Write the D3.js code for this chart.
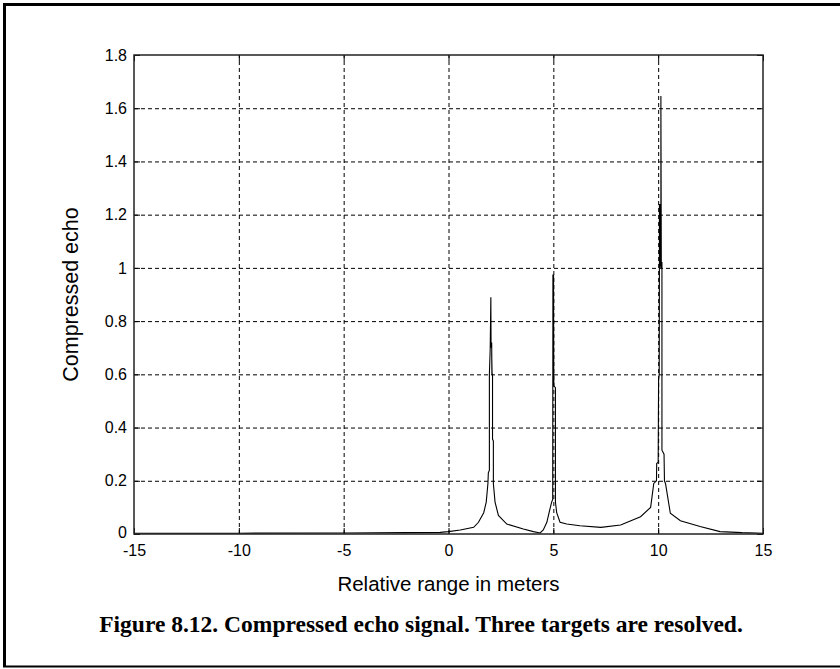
<!DOCTYPE html>
<html><head><meta charset="utf-8">
<script src="https://cdn.jsdelivr.net/npm/d3@7/dist/d3.min.js"></script>
<style>html,body{margin:0;padding:0;background:#fff}svg{display:block}</style>
</head><body>
<svg id="c" width="840" height="669"></svg>
<script>
// ---- data ----
const rangeMeters = [-15, -10, -5, -2, -0.4, 0, 0.56, 1.2, 1.43, 1.68, 1.8, 1.88, 1.9, 1.95, 1.95, 1.99, 2.02, 2.03, 2.06, 2.07, 2.06, 2.08, 2.1, 2.1, 2.14, 2.14, 2.22, 2.38, 2.78, 3.57, 4.05, 4.37, 4.52, 4.69, 4.84, 4.92, 4.97, 4.98, 5.0, 5.01, 5.02, 5.03, 5.1, 5.1, 5.16, 5.32, 5.64, 6.27, 7.27, 8.21, 9.16, 9.64, 9.79, 9.92, 9.93, 10.0, 10.02, 10.05, 10.06, 10.06, 10.07, 10.08, 10.09, 10.13, 10.13, 10.15, 10.18, 10.18, 10.28, 10.3, 10.35, 10.58, 11.06, 12.0, 12.95, 14, 15];
const compressedEcho = [0.003, 0.003, 0.004, 0.005, 0.006, 0.009, 0.015, 0.025, 0.044, 0.08, 0.12, 0.19, 0.23, 0.24, 0.6, 0.7, 0.89, 0.70, 0.72, 0.6, 0.68, 0.6, 0.6, 0.356, 0.35, 0.19, 0.12, 0.07, 0.0375, 0.019, 0.009, 0.004, 0.015, 0.044, 0.094, 0.12, 0.13, 0.975, 0.56, 0.975, 0.58, 0.556, 0.55, 0.12, 0.08, 0.044, 0.0375, 0.031, 0.025, 0.034, 0.065, 0.10, 0.19, 0.2, 0.265, 0.27, 0.58, 0.6, 1.03, 1.24, 1.03, 1.24, 1.02, 1.0, 1.646, 1.02, 1.02, 0.315, 0.3, 0.2, 0.19, 0.078, 0.05, 0.028, 0.009, 0.005, 0.003];
const xTickValues = [-15, -10, -5, 0, 5, 10, 15];
const xTickLabels = ["-15", "-10", "-5", "0", "5", "10", "15"];
const yTickValues = [0, 0.2, 0.4, 0.6, 0.8, 1, 1.2, 1.4, 1.6, 1.8];
const yTickLabels = ["0", "0.2", "0.4", "0.6", "0.8", "1", "1.2", "1.4", "1.6", "1.8"];
const xAxisTitle = "Relative range in meters";
const yAxisTitle = "Compressed echo";
const captionText = "Figure 8.12. Compressed echo signal. Three targets are resolved.";

// ---- layout ----
const svg = d3.select("#c");
const P = {l: 134, r: 763, t: 55, b: 534};
const x = d3.scaleLinear().domain([-15, 15]).range([P.l, P.r]);
const y = d3.scaleLinear().domain([0, 1.8]).range([P.b, P.t]);
const sans = "'Liberation Sans', Arial, Helvetica, sans-serif";

// figure frame
svg.append("line").attr("x1", 4.5).attr("x2", 4.5).attr("y1", 3).attr("y2", 667).attr("stroke", "#000").attr("stroke-width", 3);
svg.append("line").attr("x1", 3).attr("x2", 840).attr("y1", 4.5).attr("y2", 4.5).attr("stroke", "#000").attr("stroke-width", 3);
svg.append("line").attr("x1", 3).attr("x2", 840).attr("y1", 666.5).attr("y2", 666.5).attr("stroke", "#000").attr("stroke-width", 2);

// grid
const gx = svg.append("g").attr("transform", `translate(0,${P.b})`)
  .call(d3.axisBottom(x).tickValues(xTickValues.slice(1, -1)).tickSize(-(P.b - P.t)).tickFormat(""));
const gy = svg.append("g").attr("transform", `translate(${P.l},0)`)
  .call(d3.axisLeft(y).tickValues(yTickValues.slice(1, -1)).tickSize(-(P.r - P.l)).tickFormat(""));
[gx, gy].forEach(g => {
  g.select(".domain").remove();
  g.selectAll(".tick line").attr("stroke", "#000").attr("stroke-width", 1).attr("stroke-dasharray", "4,3");
});

// signal
svg.append("path")
  .datum(rangeMeters.map((d, i) => [d, compressedEcho[i]]))
  .attr("fill", "none").attr("stroke", "#000").attr("stroke-width", 1.1)
  .attr("d", d3.line().x(d => x(d[0])).y(d => y(d[1])));

// axes with labels
const ax = svg.append("g").attr("transform", `translate(0,${P.b})`)
  .call(d3.axisBottom(x).tickValues(xTickValues).tickSize(0).tickPadding(11)
    .tickFormat((d, i) => xTickLabels[i]));
const ay = svg.append("g").attr("transform", `translate(${P.l},0)`)
  .call(d3.axisLeft(y).tickValues(yTickValues).tickSize(0).tickPadding(7)
    .tickFormat((d, i) => yTickLabels[i]));
[ax, ay].forEach(g => {
  g.select(".domain").remove();
  g.selectAll("text").attr("font-family", sans).attr("font-size", 16).attr("fill", "#000");
});
ay.selectAll(".tick text").filter(d => d === 0).attr("dy", "0.2em");

// inward tick marks on all sides
const tk = svg.append("g").attr("stroke", "#000").attr("stroke-width", 1);
[[d3.axisBottom(x), P.b], [d3.axisTop(x), P.t]].forEach(([a, pos]) => {
  const g = tk.append("g").attr("transform", `translate(0,${pos})`).call(a.tickValues(xTickValues).tickSize(-6).tickFormat(""));
  g.select(".domain").remove();
});
[[d3.axisLeft(y), P.l], [d3.axisRight(y), P.r]].forEach(([a, pos]) => {
  const g = tk.append("g").attr("transform", `translate(${pos},0)`).call(a.tickValues(yTickValues).tickSize(-6).tickFormat(""));
  g.select(".domain").remove();
});

// box
svg.append("rect").attr("x", P.l).attr("y", P.t).attr("width", P.r - P.l).attr("height", P.b - P.t)
  .attr("fill", "none").attr("stroke", "#222").attr("stroke-width", 1.5);

// titles
svg.append("text").attr("x", (P.l + P.r) / 2).attr("y", 591).attr("text-anchor", "middle")
  .attr("font-family", sans).attr("font-size", 20.5).text(xAxisTitle);
svg.append("text").attr("transform", `translate(78,${(P.t + P.b) / 2}) rotate(-90)`).attr("text-anchor", "middle")
  .attr("font-family", sans).attr("font-size", 21.5).text(yAxisTitle);
svg.append("text").attr("x", 421).attr("y", 632).attr("text-anchor", "middle")
  .attr("font-family", "'Liberation Serif', 'Times New Roman', serif").attr("font-weight", "bold")
  .attr("font-size", 23.5).text(captionText);
</script>
</body></html>
